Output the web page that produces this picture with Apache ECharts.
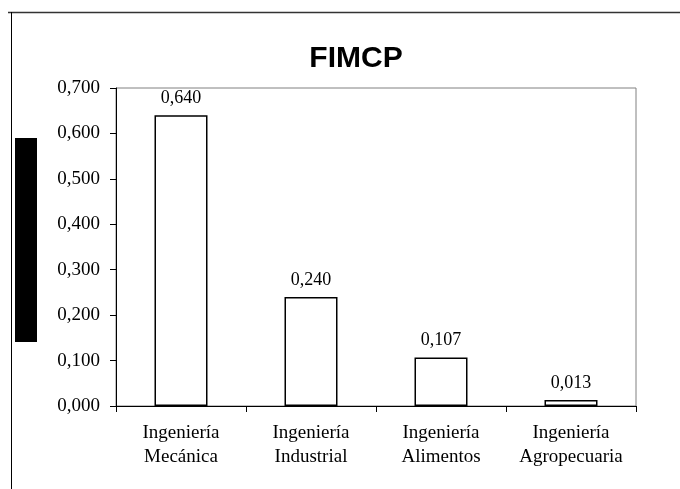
<!DOCTYPE html>
<html>
<head>
<meta charset="utf-8">
<script src="https://cdn.jsdelivr.net/npm/echarts@6/dist/echarts.min.js"></script>
<style>
html,body{margin:0;padding:0;background:#fff;}
#c{width:680px;height:489px;}
</style>
</head>
<body>
<div id="c"></div>
<script>
const categories = ['Ingeniería\nMecánica', 'Ingeniería\nIndustrial', 'Ingeniería\nAlimentos', 'Ingeniería\nAgropecuaria'];
const values = [0.640, 0.240, 0.107, 0.013];
const yTicks = [0, 0.1, 0.2, 0.3, 0.4, 0.5, 0.6, 0.7];
const titleText = 'FIMCP';

const fmt = v => v.toFixed(3).replace('.', ',');
const serif = '"Liberation Serif", "Times New Roman", serif';

const chart = echarts.init(document.getElementById('c'), null, {renderer: 'canvas'});
chart.setOption({
  animation: false,
  backgroundColor: '#fff',
  title: {
    text: titleText,
    left: 351, top: 39, textAlign: 'center',
    textStyle: {fontFamily: '"Liberation Sans", Arial, sans-serif', fontWeight: 'bold', fontSize: 30, color: '#000'}
  },
  grid: {
    left: 116, top: 88, right: 44, bottom: 83,
    show: true, borderColor: '#808080', borderWidth: 1, backgroundColor: '#fff'
  },
  xAxis: {
    type: 'category',
    data: categories,
    axisLine: {lineStyle: {color: '#000', width: 1}},
    axisTick: {show: true, interval: 0, length: 6, lineStyle: {color: '#000'}},
    axisLabel: {
      interval: 0, hideOverlap: false,
      margin: 15, color: '#000', fontFamily: serif, fontSize: 19, lineHeight: 24
    }
  },
  yAxis: {
    type: 'value',
    min: yTicks[0], max: yTicks[yTicks.length - 1], interval: 0.1,
    splitLine: {show: false},
    axisLine: {show: true, lineStyle: {color: '#000', width: 1}},
    axisTick: {show: true, length: 6, lineStyle: {color: '#000'}},
    axisLabel: {margin: 16, color: '#000', fontFamily: serif, fontSize: 19, formatter: v => fmt(v)}
  },
  series: [{
    type: 'bar',
    data: values,
    barWidth: 53,
    itemStyle: {color: '#fff', borderColor: '#000', borderWidth: 1.5},
    label: {
      show: true, position: 'top', distance: 8,
      color: '#000', fontFamily: serif, fontSize: 18,
      formatter: p => fmt(p.value)
    }
  }],
  graphic: [
    {type: 'line', shape: {x1: 8, y1: 12.5, x2: 680, y2: 12.5}, style: {stroke: '#333', lineWidth: 1.5}},
    {type: 'line', shape: {x1: 11.5, y1: 12, x2: 11.5, y2: 489}, style: {stroke: '#000', lineWidth: 1}},
    {type: 'rect', shape: {x: 15, y: 138, width: 22, height: 204}, style: {fill: '#000'}}
  ]
});
</script>
</body>
</html>
